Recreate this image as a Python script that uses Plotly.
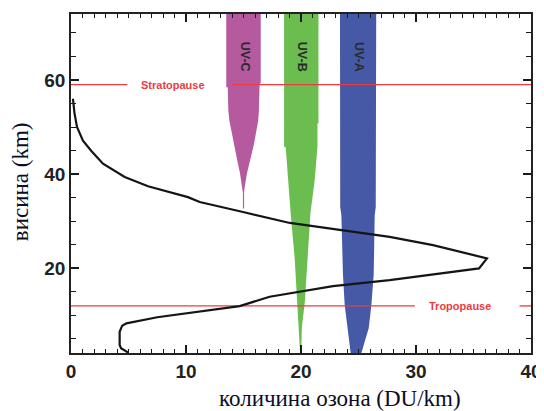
import plotly.graph_objects as go

# ---- data ----
ozone_x = [4.96, 4.35, 4.23, 4.23, 4.45, 4.82, 7.5, 10.32, 14.67, 17.27, 19.88, 22.78, 27.71, 35.48,
           36.17, 31.48, 27.71, 23.38, 19.03, 14.96, 11.19, 10.17, 6.70, 4.67, 2.78, 1.77, 1.04, 0.52, 0.30, 0.17]
ozone_alt = [2.1, 3.0, 3.7, 6.5, 7.8, 8.3, 9.6, 10.55, 11.97, 13.94, 15.0, 16.2, 17.48, 19.96,
             22.1, 24.9, 26.65, 28.07, 29.62, 31.95, 34.07, 35.1, 37.4, 39.4, 42.2, 44.9, 47.1, 50.0, 53.0, 56.0]

uvc_alt = [74, 59.3, 59.2, 58.5, 58.4, 53.5, 51.4, 46.4, 43.0, 40.1, 37.2, 36.0, 32.7]
uvc_left = [13.5, 13.5, 13.5, 13.5, 13.63, 13.68, 13.77, 14.15, 14.45, 14.70, 14.87, 14.95, 14.95]
uvc_right = [16.5, 16.5, 16.40, 16.39, 16.39, 16.34, 16.28, 15.91, 15.6, 15.30, 15.10, 15.05, 15.05]

uvb_alt = [74, 50.8, 50.7, 45.8, 45.7, 38.7, 31.7, 22.1, 12.8, 7.3, 2.0]
uvb_left = [18.53, 18.53, 18.53, 18.53, 18.67, 18.87, 19.10, 19.45, 19.69, 19.83, 19.92]
uvb_right = [21.52, 21.52, 21.43, 21.43, 21.40, 21.19, 20.82, 20.56, 20.33, 20.07, 20.02]

uva_alt = [74, 33.0, 31.3, 18.6, 12.2, 7.3, 2.0]
uva_left = [23.39, 23.41, 23.51, 23.65, 23.80, 24.04, 24.32]
uva_right = [26.54, 26.50, 26.41, 26.32, 26.12, 25.89, 25.25]

band_names = ["UV-C", "UV-B", "UV-A"]
band_label_x = [15.1, 20.05, 25.0]
band_label_alt = 65.0

stratopause_alt = 59.0
stratopause_segments = [[0, 4.9], [14.0, 40]]
stratopause_label_x = 8.85
tropopause_alt = 12.0
tropopause_segments = [[0, 29.9], [39.0, 40]]
tropopause_label_x = 33.8

x_range = [0, 40]
y_range = [2, 74]
x_major_step, x_minor_step = 10, 1
y_major_step, y_minor_step = 20, 5

# ---- figure ----
fig = go.Figure()

def band(alt, left, right, color):
    xs = list(left) + list(reversed(right))
    ys = list(alt) + list(reversed(alt))
    fig.add_trace(go.Scatter(x=xs, y=ys, fill="toself", fillcolor=color, mode="lines",
                             line=dict(width=0, color=color), hoverinfo="skip", showlegend=False))

band(uvc_alt, uvc_left, uvc_right, "#b65aa0")
band(uvb_alt, uvb_left, uvb_right, "#6cbd4f")
band(uva_alt, uva_left, uva_right, "#4559a6")

red = "#ee3b3f"
for seg in stratopause_segments:
    fig.add_trace(go.Scatter(x=seg, y=[stratopause_alt] * 2, mode="lines",
                             line=dict(color=red, width=1.3), hoverinfo="skip", showlegend=False))
for seg in tropopause_segments:
    fig.add_trace(go.Scatter(x=seg, y=[tropopause_alt] * 2, mode="lines",
                             line=dict(color=red, width=1.3), hoverinfo="skip", showlegend=False))

fig.add_trace(go.Scatter(x=ozone_x, y=ozone_alt, mode="lines",
                         line=dict(color="#151515", width=2.2), showlegend=False))

ann = []
for name, bx in zip(band_names, band_label_x):
    ann.append(dict(x=bx, y=band_label_alt, xref="x", yref="y", text="<b>" + name + "</b>", showarrow=False,
                    textangle=90, font=dict(family="Liberation Sans", size=12.5, color="#2a2a2a")))
ann.append(dict(x=stratopause_label_x, y=stratopause_alt, xref="x", yref="y", text="<b>Stratopause</b>",
                showarrow=False, font=dict(family="Liberation Sans", size=11, color=red)))
ann.append(dict(x=tropopause_label_x, y=tropopause_alt, xref="x", yref="y", text="<b>Tropopause</b>",
                showarrow=False, font=dict(family="Liberation Sans", size=11, color=red)))
ann.append(dict(x=0.585, y=-0.134, xref="paper", yref="paper", text="количина озона (DU/km)",
                showarrow=False, xanchor="center", yanchor="middle",
                font=dict(family="Liberation Serif", size=23, color="#0d0d26")))
ann.append(dict(x=-0.11, y=0.505, xref="paper", yref="paper", text="висина (km)", textangle=-90,
                showarrow=False, xanchor="center", yanchor="middle",
                font=dict(family="Liberation Serif", size=23, color="#0d0d26")))

tickfont = dict(family="Liberation Sans", size=19, color="#222222", weight="bold")
tick_color = "#1a1a1a"

# The page body has an 8px default margin, so the figure is shrunk by 8px on each axis
fig.update_layout(
    template="none",
    width=536, height=403,
    margin=dict(l=63, r=13, t=6, b=58),
    paper_bgcolor="white", plot_bgcolor="white",
    xaxis=dict(range=x_range, tickmode="linear", tick0=0, dtick=x_major_step,
               showline=True, linecolor="#222222", linewidth=1.5, mirror="allticks",
               ticks="inside", ticklen=8, tickwidth=1.6, tickcolor=tick_color,
               minor=dict(tickmode="linear", tick0=0, dtick=x_minor_step, ticks="inside",
                          ticklen=4, tickwidth=1.3, tickcolor=tick_color, showgrid=False),
               showgrid=False, zeroline=False, tickfont=tickfont),
    yaxis=dict(range=y_range, tickmode="linear", tick0=0, dtick=y_major_step,
               showline=True, linecolor="#222222", linewidth=1.5, mirror="allticks",
               ticks="inside", ticklen=8, tickwidth=1.6, tickcolor=tick_color,
               minor=dict(tickmode="linear", tick0=0, dtick=y_minor_step, ticks="inside",
                          ticklen=5, tickwidth=1.3, tickcolor=tick_color, showgrid=False),
               showgrid=False, zeroline=False, tickfont=tickfont),
    annotations=ann,
)

fig.write_html("out.html")
